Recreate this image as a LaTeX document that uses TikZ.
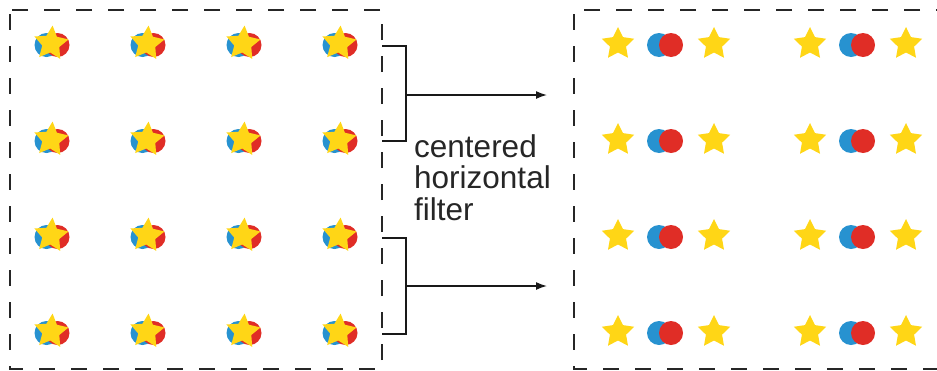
\documentclass[tikz,border=0pt]{standalone}
\usepackage{fontspec}
\setmainfont{Liberation Sans}
\usetikzlibrary{shapes.geometric,arrows.meta,positioning}
\definecolor{dotblue}{RGB}{39,146,208}
\definecolor{dotred}{RGB}{224,45,38}
\definecolor{staryel}{RGB}{255,214,22}
\tikzset{
  frame/.style={draw=black!85, line width=1.5pt, dash pattern=on 16pt off 16pt, dash phase=28pt},
  bdot/.style={circle, fill=dotblue, inner sep=0pt, minimum size=24pt},
  rdot/.style={circle, fill=dotred, inner sep=0pt, minimum size=24pt},
  ystar/.style={star, star points=5, star point ratio=2.0, fill=staryel, inner sep=0pt, minimum size=34pt},
  bracket/.style={draw=black!90, line width=2pt},
  line/.style={draw=black!90, line width=1.5pt, -{Latex[length=11pt,width=8pt]}}
}

\begin{document}
\begin{tikzpicture}[x=1pt,y=-1pt]
\useasboundingbox (0,0) rectangle (937,370);
\clip (0,0) rectangle (937,370);
% frames
\draw[frame] (10,10) rectangle (382,369);
\draw[frame] (574,10) rectangle (950,369);
%
% left: stars over both dots
\foreach \r [count=\i] in {45,141,237,333} {
  \foreach \c [count=\j] in {52,148,244,340} {
    \node[bdot] (lb\i\j) at (\c-5.5,\r) {};
    \node[rdot] (lr\i\j) at (\c+5.5,\r) {};
    \node[ystar, minimum size=36pt, rotate=-5] (ls\i\j) at (\c-1,\r-1.5) {};
  }
}
%
% right: stars beside the dots
\foreach \r [count=\i] in {45,141,237,333} {
  \foreach \c [count=\j] in {665,857} {
    \node[ystar] (ra\i\j) at (\c-47,\r-1) {};
    \node[bdot] (rb\i\j) at (\c-6,\r) {};
    \node[rdot] (rr\i\j) at (\c+6,\r) {};
    \node[ystar] (rz\i\j) at (\c+49,\r-1) {};
  }
}
%
% brackets
\coordinate (ua) at (382,46);
\coordinate (ub) at (406,46);
\coordinate (uc) at (406,141);
\coordinate (ud) at (382,141);
\coordinate (um) at (406,95);
\coordinate (ue) at (547,95);
\draw[bracket] (ua) -- (ub) -- (uc) -- (ud);
\draw[line] (um) -- (ue);
%
\coordinate (da) at (382,238);
\coordinate (db) at (406,238);
\coordinate (dc) at (406,334);
\coordinate (dd) at (382,334);
\coordinate (dm) at (406,286);
\coordinate (de) at (547,286);
\draw[bracket] (da) -- (db) -- (dc) -- (dd);
\draw[line] (dm) -- (de);
%
\node[anchor=north west, inner sep=0pt, align=left, text=black!85,
      font=\fontsize{31.5}{31.5}\selectfont] (filt) at (414,134) {centered\\horizontal\\filter};
\end{tikzpicture}
\end{document}
